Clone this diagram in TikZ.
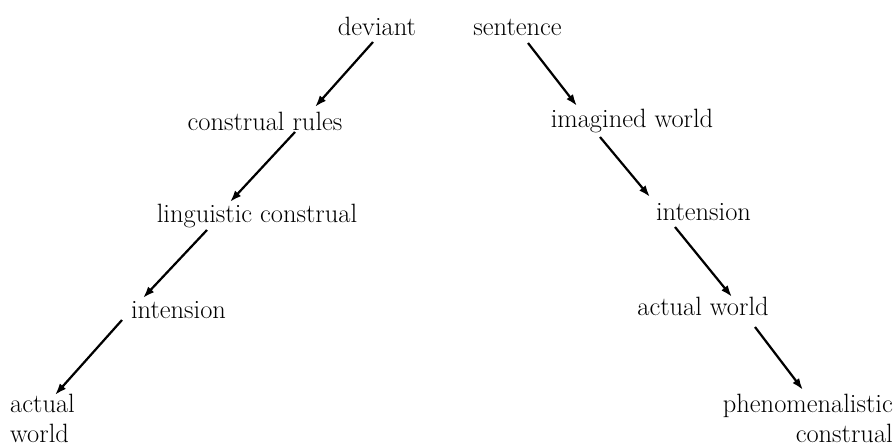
\documentclass[tikz,border=0pt]{standalone}
\usepackage{tikz}
\usetikzlibrary{arrows.meta}
\usetikzlibrary{calc}

\begin{document}
\begin{tikzpicture}[x=0.03cm,y=-0.03cm,
  word/.style={inner sep=0pt,font=\fontsize{22.6}{25.6}\selectfont},
  arr/.style={line width=1.9pt,-{Latex[length=10pt,width=7pt]}}]
\useasboundingbox (0,0) rectangle (896,446);
\node [word,anchor=base] (dev) at (377,35) {deviant};
\node [word,anchor=base] (sen) at (517.5,35) {sentence};
\node [word,anchor=base] (rul) at (265,130) {construal rules};
\node [word,anchor=base] (lng) at (257,222) {linguistic construal};
\node [word,anchor=base] (intL) at (178.5,318) {intension};
\node [word,anchor=base west,align=left] (actL) at (10,442) {actual\\world};
\node [word,anchor=base] (img) at (632,127) {imagined world};
\node [word,anchor=base] (intR) at (703.5,220) {intension};
\node [word,anchor=base] (actR) at (703,315) {actual world};
\node [word,anchor=base east,align=right] (phen) at (893,442) {phenomenalistic\\construal};
% left branch
\draw [arr] ($(dev.base)+(-4,7)$) -- ($(rul.base)+(50,-23)$);
\draw [arr] ($(rul.base)+(30,2)$) -- ($(lng.base)+(-27,-20)$);
\draw [arr] ($(lng.base)+(-50,8)$) -- ($(intL.base)+(-35.5,-20)$);
\draw [arr] ($(intL.base)+(-56.5,2)$) -- ($(actL.base west)+(45,-47)$);
% right branch
\draw [arr] ($(sen.base)+(10.5,8)$) -- ($(img.base)+(-55,-21)$);
\draw [arr] ($(img.base)+(-32,10)$) -- ($(intR.base)+(-53.5,-23)$);
\draw [arr] ($(intR.base)+(-28.5,7)$) -- ($(actR.base)+(29,-18)$);
\draw [arr] ($(actR.base)+(52,12)$) -- ($(phen.base east)+(-90,-52)$);
\end{tikzpicture}
\end{document}
